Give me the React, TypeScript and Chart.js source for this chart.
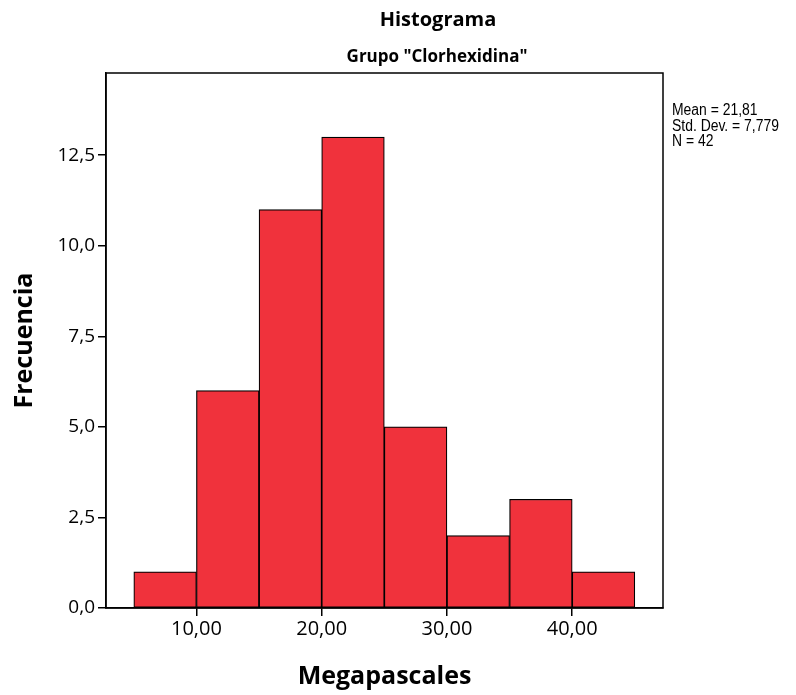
import React, { useEffect, useRef } from "react";
import { Chart, registerables } from "chart.js";

Chart.register(...registerables);

const binStarts = [5, 10, 15, 20, 25, 30, 35, 40];
const binWidth = 5;
const counts = [1, 6, 11, 13, 5, 2, 3, 1];
const xTickValues = [10, 20, 30, 40];
const yTickValues = [0, 2.5, 5, 7.5, 10, 12.5];
const statsLines = ["Mean = 21,81", "Std. Dev. = 7,779", "N = 42"];
const titleText = "Histograma";
const subtitleText = 'Grupo "Clorhexidina"';
const xTitle = "Megapascales";
const yTitle = "Frecuencia";

const FONT = "'Open Sans', 'Noto Sans', sans-serif";

export default function App() {
  const ref = useRef<HTMLCanvasElement | null>(null);

  useEffect(() => {
    if (!ref.current) return;
    const textPlugin = {
      id: "textPlugin",
      afterDraw(chart: any) {
        const { ctx, chartArea } = chart;
        ctx.save();
        ctx.strokeStyle = "#000";
        ctx.lineWidth = 1.5;
        ctx.strokeRect(chartArea.left, chartArea.top, chartArea.right - chartArea.left, chartArea.bottom - chartArea.top);
        ctx.fillStyle = "#000";
        ctx.textAlign = "center";
        ctx.textBaseline = "middle";
        ctx.font = `bold 20px ${FONT}`;
        ctx.fillText(titleText, 438, 20);
        ctx.font = `bold 17px ${FONT}`;
        ctx.fillText(subtitleText, 437, 57);
        ctx.textAlign = "left";
        ctx.font = "16px 'Liberation Sans Narrow', 'Liberation Sans', sans-serif";
        const x0 = chartArea.right + 9;
        statsLines.forEach((s, i) => {
          ctx.save();
          ctx.translate(x0, 111 + i * 15.5);
          ctx.scale(0.87, 1);
          ctx.fillText(s, 0, 0);
          ctx.restore();
        });
        ctx.restore();
      },
    };

    const gridOpts = { display: true, drawOnChartArea: false, drawTicks: true, tickLength: 8, color: "#000", lineWidth: 1.5, offset: false };

    const chart = new Chart(ref.current, {
      type: "bar",
      data: {
        datasets: [
          {
            data: binStarts.map((s, i) => ({ x: s + binWidth / 2, y: counts[i] })),
            backgroundColor: "#F0323C",
            borderColor: "#000",
            borderWidth: 1.2,
            borderSkipped: false,
            barPercentage: 1,
            categoryPercentage: 1,
          },
        ],
      },
      options: {
        responsive: false,
        animation: false,
        layout: { padding: { top: 73, right: 133, left: 0, bottom: 0 } },
        plugins: { legend: { display: false }, tooltip: { enabled: false }, title: { display: false } },
        scales: {
          x: {
            type: "linear",
            min: 2.78,
            max: 47.25,
            offset: false,
            afterFit: (s: any) => { s.height = 87; },
            afterBuildTicks: (s: any) => { s.ticks = xTickValues.map((v) => ({ value: v })); },
            ticks: {
              color: "#000",
              font: { family: FONT, size: 20 },
              padding: 1,
              maxRotation: 0,
              callback: (v: any) => Number(v).toFixed(2).replace(".", ","),
            },
            grid: gridOpts,
            border: { display: true, color: "#000", width: 1.5 },
            title: { display: true, text: xTitle, color: "#000", font: { family: FONT, size: 25, weight: "bold" }, padding: { top: 0, bottom: 3 } },
          },
          y: {
            type: "linear",
            min: 0,
            max: 14.77,
            afterFit: (s: any) => { s.width = 106; },
            afterBuildTicks: (s: any) => { s.ticks = yTickValues.map((v) => ({ value: v })); },
            ticks: {
              color: "#000",
              font: { family: FONT, size: 19 },
              padding: 3,
              callback: (v: any) => Number(v).toFixed(1).replace(".", ","),
            },
            grid: gridOpts,
            border: { display: true, color: "#000", width: 1.5 },
            title: { display: true, text: yTitle, color: "#000", font: { family: FONT, size: 25, weight: "bold" }, padding: { top: 10, bottom: 0 } },
          },
        },
      },
      plugins: [textPlugin],
    } as any);
    return () => chart.destroy();
  }, []);

  return (
    <div style={{ position: "absolute", left: 0, top: 0, width: 796, height: 695, background: "#fff" }}>
      <canvas ref={ref} width={796} height={695} style={{ display: "block" }} />
    </div>
  );
}
